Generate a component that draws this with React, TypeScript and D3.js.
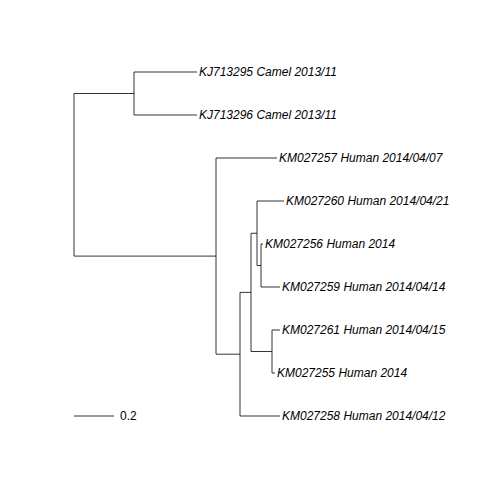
import React from 'react';
import * as d3 from 'd3';

// tree as id / parent / branch length (substitutions per site)
const ids = ['root', 'camel', 'KJ713295 Camel 2013/11', 'KJ713296 Camel 2013/11', 'human', 'KM027257 Human 2014/04/07',
    'n240', 'n251', 'n258', 'KM027260 Human 2014/04/21', 'n262', 'KM027256 Human 2014', 'KM027259 Human 2014/04/14',
    'n272', 'KM027261 Human 2014/04/15', 'KM027255 Human 2014', 'KM027258 Human 2014/04/12'];
const parents = ['', 'root', 'camel', 'camel', 'root', 'human',
    'human', 'n240', 'n251', 'n258', 'n258', 'n262', 'n262',
    'n251', 'n272', 'n272', 'n240'];
const lengths = [0, 0.30, 0.315, 0.315, 0.71, 0.305,
    0.12, 0.055, 0.03, 0.135, 0.02, 0.01, 0.095,
    0.105, 0.04, 0.015, 0.2];
const scaleBar = 0.2;

const W = 504, H = 504;

const App: React.FC = () => {
    const rows = ids.map((id, i) => ({ id, parent: parents[i] || null, len: lengths[i] }));
    const root = d3.stratify<typeof rows[0]>().id(d => d.id).parentId(d => d.parent)(rows);
    const depth = new Map<string, number>();
    root.each(n => depth.set(n.id!, (n.parent ? depth.get(n.parent.id!)! : 0) + n.data.len));
    const leaves = root.leaves();
    const x = d3.scaleLinear().domain([0, 1]).range([74, 274]);
    const yTip = d3.scalePoint<string>().domain(leaves.map(l => l.id!)).range([72, 416]);
    const yOf = new Map<string, number>();
    root.eachAfter(n => {
        yOf.set(n.id!, n.children ? d3.mean(n.children, c => yOf.get(c.id!)!)! : yTip(n.id!)!);
    });
    const segs: JSX.Element[] = [];
    root.each(n => {
        const nx = x(depth.get(n.id!)!), ny = yOf.get(n.id!)!;
        if (n.parent) {
            segs.push(<line key={'h' + n.id} x1={x(depth.get(n.parent.id!)!)} x2={nx} y1={ny} y2={ny} />);
        }
        if (n.children) {
            const ys = n.children.map(c => yOf.get(c.id!)!);
            segs.push(<line key={'v' + n.id} x1={nx} x2={nx} y1={d3.min(ys)} y2={d3.max(ys)} />);
        }
    });
    return (
        <svg width={W} height={H} style={{ position: 'absolute', left: 0, top: 0, background: '#fff' }}>
            <g stroke="#000" strokeWidth={0.8}>{segs}</g>
            <g fontFamily="Liberation Sans, Arial, sans-serif" fontSize={12} fontStyle="italic">
                {leaves.map(l => (
                    <text key={l.id} x={x(depth.get(l.id!)!) + 2} y={yOf.get(l.id!)!} dy="0.35em">{l.id}</text>
                ))}
            </g>
            <line x1={x(0)} x2={x(scaleBar)} y1={416} y2={416} stroke="#000" strokeWidth={0.8} />
            <text x={x(scaleBar) + 6} y={416} dy="0.35em" fontFamily="Liberation Sans, Arial, sans-serif" fontSize={12}>{scaleBar}</text>
        </svg>
    );
};

export default App;
